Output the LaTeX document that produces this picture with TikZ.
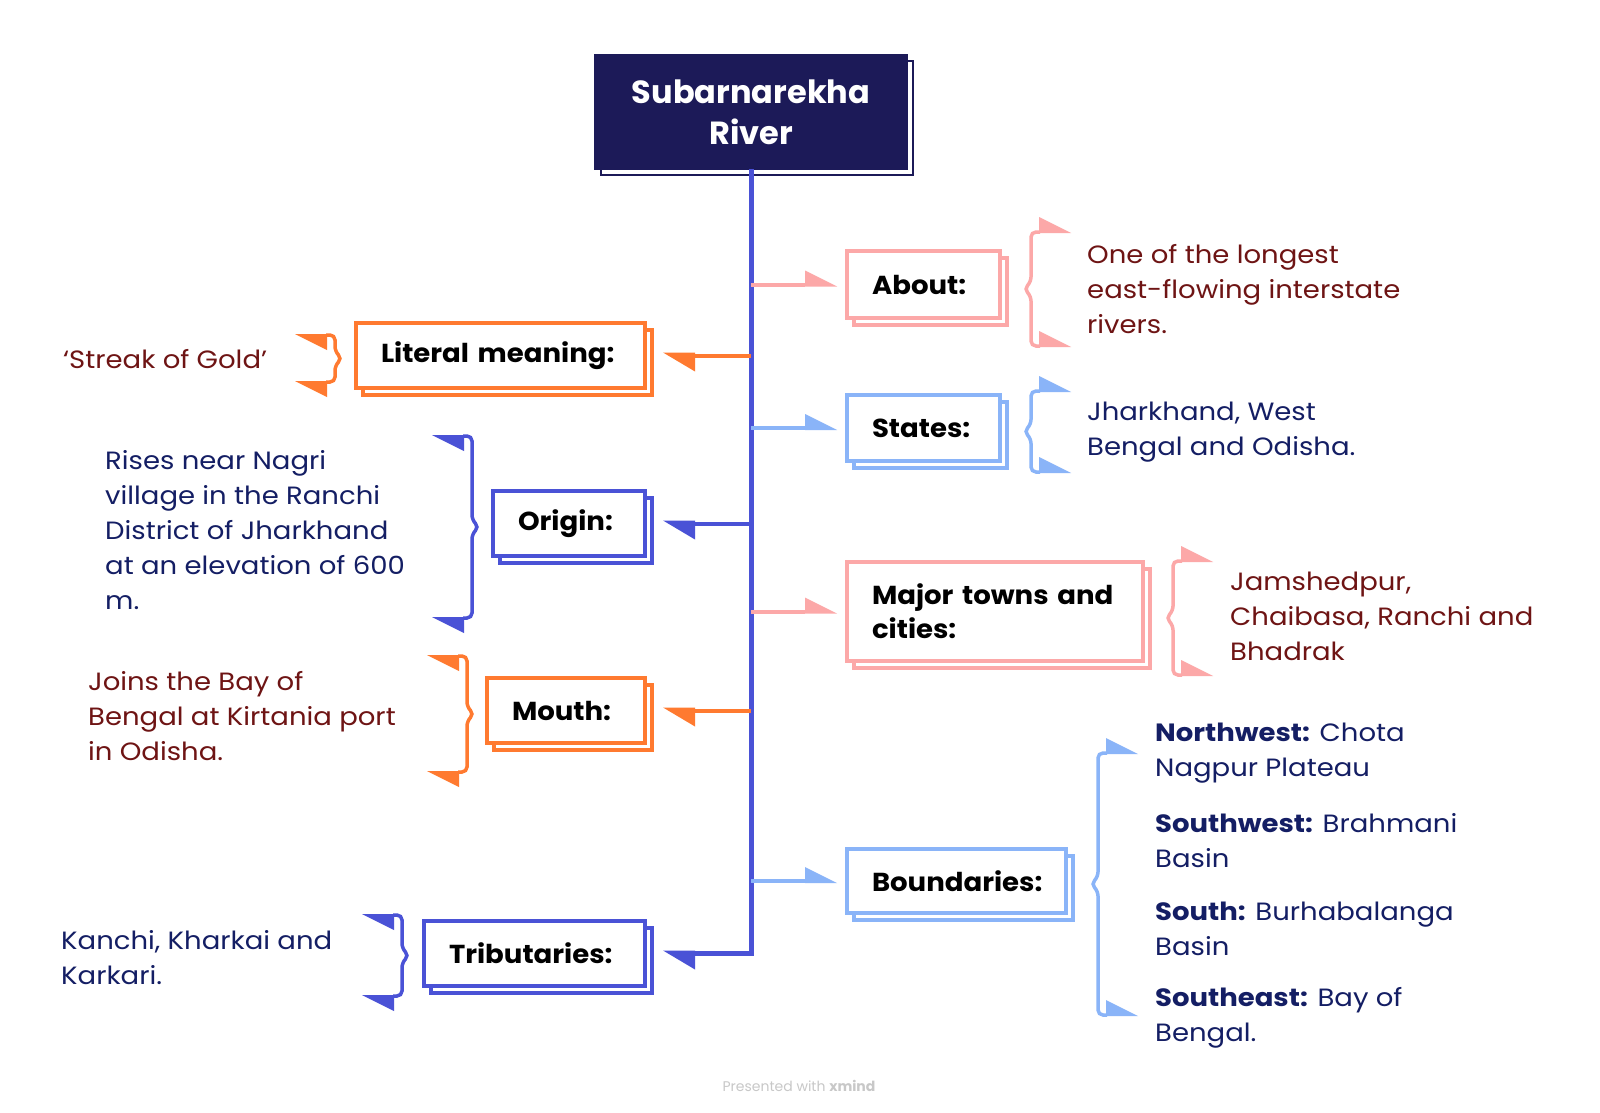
\documentclass[tikz,border=0pt]{standalone}
\usepackage{fontspec}
\setmainfont{Poppins}
\newfontfamily\descfont{Poppins}[FakeStretch=1.1]
\newfontfamily\labelfont{Poppins}[FakeStretch=1.06]
\usetikzlibrary{calc}
\definecolor{rootnavy}{RGB}{28,26,88}
\definecolor{cblue}{RGB}{74,82,214}
\definecolor{clblue}{RGB}{138,180,248}
\definecolor{cpink}{RGB}{252,168,168}
\definecolor{corange}{RGB}{255,122,48}
\definecolor{tred}{RGB}{110,20,20}
\definecolor{tnavy}{RGB}{20,30,100}
\definecolor{footgray}{RGB}{200,200,200}
\newcommand\myBraceR[4]{%
 \draw[#4, line width=3.5pt, rounded corners=5pt] (#1+9,#2) -- (#1,#2) -- (#1,{(#2+#3)/2-7}) -- (#1-7,{(#2+#3)/2}) -- (#1,{(#2+#3)/2+7}) -- (#1,#3) -- (#1+9,#3);
 \fill[#4] (#1+8,#2+1) -- ++(0,-16) -- ++(32,16) -- cycle;
 \fill[#4] (#1+8,#3+1) -- ++(0,-16) -- ++(32,16) -- cycle;
}
\newcommand\myBraceL[4]{%
 \draw[#4, line width=3.5pt, rounded corners=5pt] (#1-9,#2) -- (#1,#2) -- (#1,{(#2+#3)/2-7}) -- (#1+7,{(#2+#3)/2}) -- (#1,{(#2+#3)/2+7}) -- (#1,#3) -- (#1-9,#3);
 \fill[#4] (#1-8,#2-1) -- ++(0,16) -- ++(-32,-16) -- cycle;
 \fill[#4] (#1-8,#3-1) -- ++(0,16) -- ++(-32,-16) -- cycle;
}
\begin{document}
\begin{tikzpicture}[x=1pt,y=-1pt,
  lbox/.style={rectangle, draw=#1, line width=4pt, fill=white, outer sep=0pt,
    preaction={draw=#1, fill=white, line width=3.5pt, transform canvas={shift={(7pt,-7pt)}}},
    inner xsep=25pt, inner ysep=0pt, align=left,
    font=\labelfont\fontsize{26}{34}\selectfont\bfseries, text=black},
  rootbox/.style={rectangle, draw=rootnavy, fill=rootnavy, line width=2pt, outer sep=0pt,
    preaction={draw=rootnavy, fill=white, line width=2pt, transform canvas={shift={(6pt,-6pt)}}},
    minimum width=312pt, minimum height=114pt, align=center, text=white,
    font=\fontsize{32}{41}\selectfont\bfseries},
  conn/.style={draw=#1, line width=4pt},
  desc/.style={anchor=west, inner sep=0pt, align=left, font=\descfont\fontsize{25}{35}\selectfont, text=#1},
  trunk/.style={draw=cblue, line width=5pt}
]
\fill[white] (0,0) rectangle (1600,1113);
\useasboundingbox (0,0) rectangle (1600,1113);

% root
\node[rootbox] (root) at (751,112) {Subarnarekha\\River};

% right boxes
\node[lbox=cpink, text width=103pt, minimum height=67pt] (about) at (923.5,284.5) {About:};
\node[lbox=clblue, text width=103pt, minimum height=66pt] (states) at (923.5,428) {States:};
\node[lbox=cpink, text width=246pt, minimum height=99pt] (major) at (995,611.5) {Major towns and\\cities:};
\node[lbox=clblue, text width=169pt, minimum height=64pt] (bound) at (956.5,881) {Boundaries:};

% left boxes
\node[lbox=corange, text width=239pt, minimum height=65pt] (lit) at (500.5,355.5) {Literal meaning:};
\node[lbox=cblue, text width=102pt, minimum height=65pt] (orig) at (569,523.5) {Origin:};
\node[lbox=corange, text width=108pt, minimum height=65pt] (mouth) at (566,710.5) {Mouth:};
\node[lbox=cblue, text width=171pt, minimum height=65pt] (trib) at (534.5,953.5) {Tributaries:};

% trunk (continues into tributaries connector)
\draw[trunk] (root.south) |- ($(trib.east)+(50,0)$);
\fill[cblue] (trib.east) ++(50,-3) -- ++(0,19) -- ++(-32,-19) -- cycle;

% right connectors
\foreach \n/\c in {about/cpink, states/clblue, major/cpink, bound/clblue}{
  \draw[conn=\c] (root.south |- \n.west) -- ($(\n.west)+(-42,0)$);
  \fill[\c] (\n.west) ++(-42,2) -- ++(0,-16) -- ++(32,16) -- cycle;
}
% left connectors
\foreach \n/\c in {lit/corange, orig/cblue, mouth/corange}{
  \draw[conn=\c] (root.south |- \n.east) -- ($(\n.east)+(50,0)$);
  \fill[\c] (\n.east) ++(50,-3) -- ++(0,19) -- ++(-32,-19) -- cycle;
}

% braces
\myBraceR{1031}{232}{346}{cpink}
\myBraceR{1031}{391}{472}{clblue}
\myBraceR{1173}{561}{675}{cpink}
\myBraceR{1098}{753}{1015}{clblue}
\myBraceL{335}{335}{382}{corange}
\myBraceL{472}{436}{618}{cblue}
\myBraceL{467}{656}{772}{corange}
\myBraceL{402}{915}{996}{cblue}

% descriptions
\node[desc=tred] (aboutt) at (1087,289) {One of the longest\\east-flowing interstate\\rivers.};
\node[desc=tnavy] (statest) at (1087,432) {Jharkhand, West\\Bengal and Odisha.};
\node[desc=tred] (majort) at (1230,616) {Jamshedpur,\\Chaibasa, Ranchi and\\Bhadrak};
\node[desc=tnavy] (bw1) at (1155,753) {\textbf{Northwest:} Chota\\Nagpur Plateau};
\node[desc=tnavy] (bw2) at (1155,840.5) {\textbf{Southwest:} Brahmani\\Basin};
\node[desc=tnavy] (bw3) at (1155,928.5) {\textbf{South:} Burhabalanga\\Basin};
\node[desc=tnavy] (bw4) at (1155,1017.5) {\textbf{Southeast:} Bay of\\Bengal.};
\node[desc=tred] (litt) at (63,359) {‘Streak of Gold’};
\node[desc=tnavy] (origt) at (105,530) {Rises near Nagri\\village in the Ranchi\\District of Jharkhand\\at an elevation of 600\\m.};
\node[desc=tred] (moutht) at (88,716) {Joins the Bay of\\Bengal at Kirtania port\\in Odisha.};
\node[desc=tnavy] (tribt) at (61,957.5) {Kanchi, Kharkai and\\Karkari.};

% footer
\node[text=footgray, font=\fontsize{14}{16}\selectfont] (foot) at (799,1086) {Presented with \textbf{xmind}};
\end{tikzpicture}
\end{document}
